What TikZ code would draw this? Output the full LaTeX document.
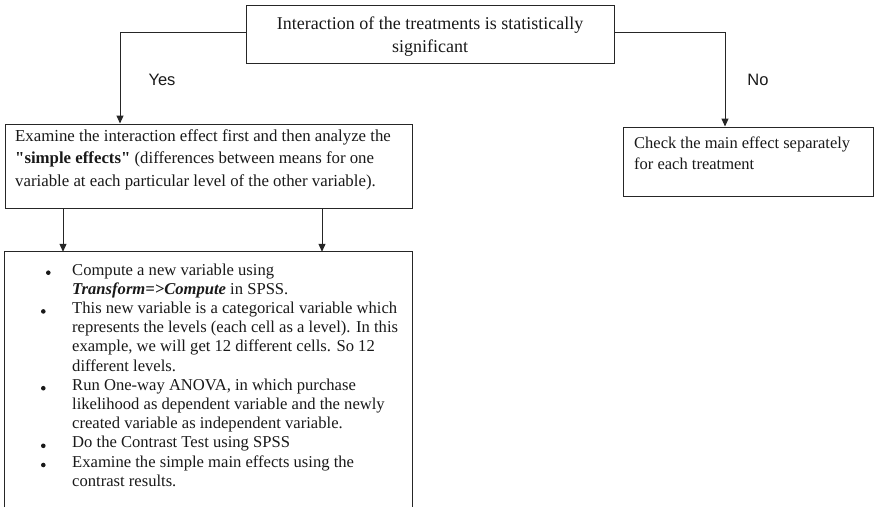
\documentclass[tikz,border=0pt]{standalone}
\usepackage{fontspec}
\setmainfont{Liberation Serif}[Ligatures=TeXOff]
\newfontfamily\arialfont{Liberation Sans}
\usetikzlibrary{arrows.meta}
\begin{document}
\begin{tikzpicture}[x=1pt,y=-1pt,
  box/.style={draw=black!85, line width=1pt, inner sep=0pt, fill=none},
  arr/.style={draw=black!85, line width=1pt, -{Triangle[length=8pt,width=7pt]}},
  txt/.style={inner sep=0pt, text=black!90},
  lbl/.style={inner sep=0pt, text=black!90, font=\arialfont\fontsize{16.5}{20}\selectfont},
  bul/.style={circle, fill=black!90, inner sep=0pt, minimum size=4.6pt},
  itemfont/.style={font=\fontsize{16.6}{19.2}\selectfont}]
\useasboundingbox (0,0) rectangle (874,507);

% boxes
\node[box, minimum width=368pt, minimum height=58pt] (top) at (430,34) {};
\node[box, minimum width=407pt, minimum height=84pt] (exam) at (208.5,166) {};
\node[box, minimum width=250pt, minimum height=69pt] (chk) at (748,161.5) {};
\node[inner sep=0pt, minimum width=407pt, minimum height=255pt] (low) at (208.5,379.5) {};
\draw[draw=black!85, line width=1pt] (low.south west) -- (low.north west) -- (low.north east) -- (low.south east);

% connectors
\draw[arr] ([yshift=2pt]top.west) -| ([xshift=-88.5pt]exam.north);
\draw[arr] ([yshift=2pt]top.east) -| ([xshift=-23pt]chk.north);
\draw[arr] ([xshift=-145.5pt]exam.south) -- ([xshift=-145.5pt]low.north);
\draw[arr] ([xshift=113.5pt]exam.south) -- ([xshift=113.5pt]low.north);

% labels
\node[lbl, anchor=base] (yes) at (162,85) {Yes};
\node[lbl, anchor=base] (no) at (758,85) {No};

% texts (anchor base = baseline of last line)
\node[txt, anchor=base, align=center, font=\fontsize{18}{23}\selectfont] (toptxt) at (430,52)
  {Interaction of the treatments is statistically\\significant};
\node[txt, anchor=base west, align=left, font=\fontsize{16.8}{22.7}\selectfont] (examtxt) at (15,186.4)
  {Examine the interaction effect first and then analyze the\\
   \textbf{"simple effects"} (differences between means for one\\
   variable at each particular level of the other variable).};
\node[txt, anchor=base west, align=left, font=\fontsize{16.5}{21.5}\selectfont] (chktxt) at (634,169.5)
  {Check the main effect separately\\for each treatment};

% bullet list
\node[txt, itemfont, anchor=base west, align=left] (i1) at (72,294.2)
  {Compute a new variable using\\\textbf{\textit{Transform=>Compute}} in SPSS.};
\node[txt, itemfont, anchor=base west, align=left] (i2) at (72,371)
  {This new variable is a categorical variable which\\
   represents the levels (each cell as a level). In this\\
   example, we will get 12 different cells. So 12\\
   different levels.};
\node[txt, itemfont, anchor=base west, align=left] (i3) at (72,428.6)
  {Run One-way ANOVA, in which purchase\\
   likelihood as dependent variable and the newly\\
   created variable as independent variable.};
\node[txt, itemfont, anchor=base west, align=left] (i4) at (72,447.8)
  {Do the Contrast Test using SPSS};
\node[txt, itemfont, anchor=base west, align=left] (i5) at (72,486.2)
  {Examine the simple main effects using the\\contrast results.};

\node[bul] (b1) at (48.3,272.7) {};
\node[bul] (b2) at (43.3,311.4) {};
\node[bul] (b3) at (43.3,388.2) {};
\node[bul] (b4) at (43.3,445.8) {};
\node[bul] (b5) at (43.3,465) {};
\end{tikzpicture}
\end{document}
